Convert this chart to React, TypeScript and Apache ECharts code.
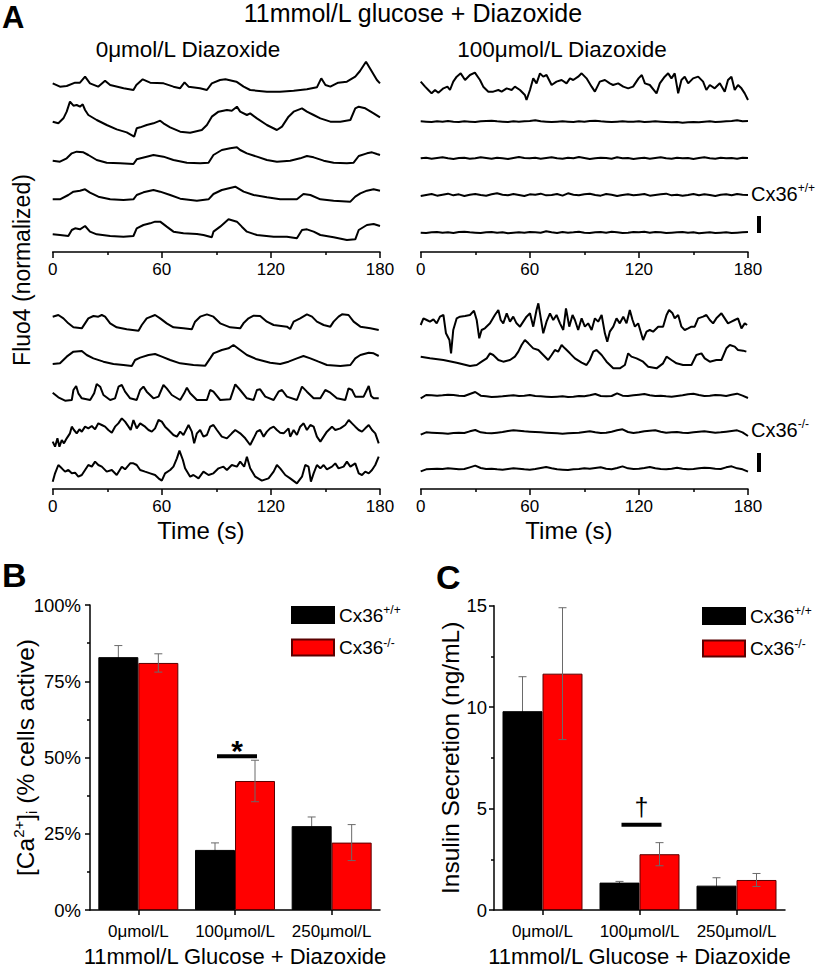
import React, { useEffect, useRef } from "react";
import * as echarts from "echarts";

type Pt = [number, number];

// ---------------- Panel A : Fluo4 traces (time in s, deflection in a.u.) ----------------
const TIME_STEP = 3; // sampling step (s) of the evenly sampled traces

// Cx36+/+ , 0 µmol/L diazoxide
const wt0_1: Pt[] = [[0,10],[4,0],[7.7,2],[12.3,12],[15,12],[17.8,30],[20.5,10],[25,0],[28.8,18],[31.6,5],[39,-5],[44.4,-10],[46,5],[49.5,22],[53.6,12],[61,10],[66.4,0],[70,-5],[72.5,13],[74.7,0],[81,-5],[84.8,-10],[87.5,10],[92,20],[95,22],[101,15],[105,0],[108.6,-10],[117.8,-15],[125,-15],[132.5,-12],[139.8,-8],[145.3,-2],[147.7,25],[150,5],[152.7,0],[157,12],[161.8,15],[166.4,30],[169,47],[172.3,75],[175.6,45],[178.3,20],[180,10]];
const wt0_2: Pt[] = [[0,0],[3.1,-5],[5.9,10],[7.7,30],[9.5,60],[11.4,48],[13.2,50],[15,45],[16.5,52],[17.8,35],[19.6,20],[24.2,5],[29.7,-10],[35.2,-23],[40.7,-32],[44.8,-45],[46.2,-20],[48.1,-17],[51.7,-10],[55.4,-5],[59.1,3],[60.9,-5],[64.6,-17],[70.1,-30],[75.6,-33],[82,-25],[84.8,-10],[87.5,15],[91.2,30],[95.8,35],[98.5,33],[101.3,45],[103.1,30],[106.8,20],[108.6,25],[112.3,10],[117.8,-10],[123.3,-25],[126.1,-15],[129.7,15],[132.5,30],[137.1,40],[139.8,30],[143.5,20],[147.2,10],[152.7,0],[158.2,0],[163.7,5],[166.4,40],[168.3,45],[171.9,40],[176.5,25],[180,13]];
const wt0_3: Pt[] = [[0,3],[4,0],[7.7,10],[10.5,25],[13.2,30],[16.9,28],[19.6,20],[24.2,5],[29.7,-3],[37.1,-5],[44.4,-7],[46.2,7],[51.7,15],[55.4,20],[60.9,15],[66.4,5],[73.8,-3],[81.1,-5],[85.7,-3],[88.4,20],[93,35],[97.6,40],[101.3,43],[103.1,35],[106.8,25],[112.3,15],[117.8,5],[123.3,0],[130.6,3],[136.1,10],[139.8,17],[143.5,13],[149,3],[154.5,-3],[161.8,-5],[165.5,-3],[168.3,17],[172.8,25],[175.6,28],[178.3,23],[180,20]];
const wt0_4: Pt[] = [[0,0],[4,0],[8.6,13],[11.4,23],[15,26],[17.8,30],[20.5,20],[25.1,8],[31.6,0],[38.9,-2],[44.4,0],[46.2,13],[49.9,21],[55.4,28],[59.1,23],[64.6,13],[70.1,2],[79.3,-4],[85.7,0],[88.4,16],[93,28],[100.4,38],[105,23],[110.5,13],[117.8,6],[125.1,0],[134.3,0],[137.9,16],[141.7,13],[147.2,0],[154.5,-4],[163.7,-7],[166.4,8],[169.2,18],[172.8,26],[176.5,30],[180,26]];
const wt0_5: Pt[] = [[0,2],[4,0],[8.6,-3],[10.5,15],[12.3,20],[15,17],[17.8,27],[20.5,10],[24.2,2],[31.6,-3],[38.9,-5],[44.4,-3],[46.2,20],[49.9,30],[53.6,35],[56.3,40],[59.1,40],[62.7,25],[66.4,10],[71.9,5],[79.3,3],[82.9,0],[87.5,-7],[88.4,10],[92.1,25],[96.7,47],[101.3,40],[104,25],[106.8,10],[112.3,0],[121.5,-5],[128.8,-5],[134.3,-10],[137.1,15],[139.8,17],[143.5,10],[147.2,0],[154.5,-7],[161.8,-15],[166.4,-13],[168.3,15],[172.8,30],[176.5,33],[180,27]];

// Cx36+/+ , 100 µmol/L diazoxide
const wt100_1: Pt[] = [[0,15],[2.4,0],[4.2,-10],[6,-20],[7.9,-10],[9.7,-18],[12.5,-5],[14.7,0],[16.1,-10],[17.9,15],[19.8,30],[22,40],[24.4,20],[27.1,35],[29.8,42],[32.6,20],[34.4,0],[37.2,-15],[39.9,-15],[42.7,-10],[44.5,-15],[47.3,-5],[50,-10],[51.8,0],[54.6,-10],[57.3,-25],[58.2,-40],[60.1,-10],[61.9,25],[63.7,10],[65.6,40],[67.4,30],[69.2,35],[72,5],[74.7,15],[77.5,20],[80.2,10],[82.1,25],[83.9,20],[86.6,30],[88.5,40],[91.2,25],[94,0],[95.8,-15],[98.5,15],[101.3,20],[104,10],[105.8,5],[108.6,10],[111.4,0],[114.1,-5],[116.8,0],[119.8,25],[121.6,35],[123.3,10],[126,5],[129.7,-20],[131.5,10],[134.2,30],[136.1,40],[137.9,25],[139.7,40],[141.6,-20],[143.4,20],[145.2,30],[147.1,10],[149.8,25],[152.6,30],[155.3,15],[157.1,-10],[159,5],[161.7,-5],[164.5,10],[167.2,-15],[169,20],[170.9,30],[172.7,-10],[174.5,5],[176.4,-5],[178.2,-20],[180,-40]];
const wt100_2 = [1,0,-1,1,0,2,0,-1,1,0,-1,1,2,3,1,0,-1,1,0,1,2,4,1,0,-1,0,1,0,-1,1,0,2,3,1,0,-1,0,1,0,0,1,-1,0,1,0,-1,-2,-1,-3,-2,-1,-2,0,1,-1,0,1,2,4,1,2];
const wt100_3 = [0,2,-1,1,3,0,-2,1,2,-1,0,3,1,-1,2,0,-2,1,4,1,0,2,-1,1,3,0,-1,2,0,4,1,-2,0,2,1,-1,3,0,1,-2,0,2,-1,1,3,0,-1,2,0,1,-2,1,3,0,-1,2,0,1,-1,2,1];
const wt100_4 = [-3,0,3,-2,1,4,-1,2,-3,1,3,0,-2,2,5,1,-1,3,0,-3,2,1,4,-1,0,3,-2,5,1,-1,2,4,0,-2,3,1,-3,0,2,-1,1,3,-2,0,2,4,-1,1,-2,0,3,-1,2,0,-3,1,2,-1,3,1,0];
const wt100_5 = [0,-1,1,2,0,1,-1,2,3,1,0,-1,1,2,0,1,-2,0,1,0,2,1,0,4,1,-1,2,0,1,3,0,-1,1,2,0,3,1,-1,0,2,1,3,0,2,1,-1,0,1,2,0,1,-2,0,1,-1,0,1,-1,0,1,2];

// Cx36-/- , 0 µmol/L diazoxide
const ko0_1: Pt[] = [[0,35],[3.1,40],[5.9,30],[8.6,15],[11.4,3],[16,0],[17.8,15],[19.6,30],[22.4,37],[25.1,35],[27,40],[28.8,35],[31.6,15],[35.2,3],[40.7,-3],[47.2,-7],[49,10],[51.7,30],[56.3,40],[59.1,30],[62.7,15],[66.4,3],[71.9,0],[76.5,-3],[78.3,20],[81.1,35],[84.8,42],[88.4,35],[92.1,15],[97.6,3],[103.1,0],[104.9,15],[107.7,30],[110.5,38],[114.1,37],[117.8,20],[121.5,10],[128.8,5],[130.6,-2],[132.5,20],[136.1,30],[139.8,42],[142.6,35],[145.3,20],[149,10],[152.7,5],[154.5,20],[157.2,35],[159.1,42],[162.7,40],[165.5,20],[169.2,5],[174.7,0],[179.3,-5]];
const ko0_2: Pt[] = [[0,3],[4,5],[7.7,25],[11.4,40],[16,42],[18.7,30],[22.4,20],[27.9,10],[33.4,3],[38.9,0],[43.5,-3],[45.3,15],[48.1,22],[52.7,30],[56.3,33],[60,25],[64.6,15],[70.1,5],[77.4,0],[83.9,-2],[86.6,20],[88.4,35],[93,45],[96.7,50],[99.4,60],[103.1,45],[106.8,30],[112.3,17],[119.6,7],[125.1,3],[129.7,10],[134.3,20],[137.9,27],[141.7,20],[146.2,10],[150.8,0],[158.2,-3],[163.7,0],[166.4,20],[169.2,30],[173.8,37],[176.5,35],[179.3,27]];
const ko0_3: Pt[] = [[0,22],[3.1,8],[6.8,-2],[10.5,0],[11.4,30],[12.9,42],[14.1,20],[16,5],[20.6,0],[22.8,20],[24.2,48],[26.1,40],[27.9,15],[31.6,0],[34.3,5],[36.2,40],[38,45],[39.8,25],[42.6,5],[46.2,0],[48.1,30],[49.9,40],[51.7,25],[55.4,5],[58.2,10],[60.9,45],[62.7,35],[65.5,15],[70.1,0],[72.3,20],[73.8,37],[75.6,20],[79.3,0],[84.8,0],[86.6,30],[88.4,25],[92.1,0],[97.6,2],[100.4,47],[103.1,30],[106.8,5],[110.5,0],[112.3,30],[114.1,32],[116.9,10],[121.5,0],[124.2,25],[126.1,30],[128.8,10],[134.3,0],[137.1,40],[139.8,25],[143.5,5],[147.2,5],[149.9,30],[152.7,22],[156.3,5],[160.9,0],[162.7,35],[164.6,30],[166.4,10],[171,10],[173.8,42],[175.1,12],[176.5,5],[179.3,5]];
const ko0_4: Pt[] = [[0,-25],[1.3,-40],[2.6,-15],[3.7,-40],[5,-20],[6.2,-30],[7.7,-15],[9.5,0],[10.5,20],[11.7,10],[13.2,0],[14.7,12],[16,5],[17.8,20],[19.6,15],[21.5,22],[23.3,12],[25.1,30],[27,25],[28.8,20],[30.6,10],[32.5,2],[34.3,20],[36.1,30],[38,45],[39.8,35],[41.7,20],[42.9,10],[44.4,40],[46.2,15],[48.1,30],[50.8,20],[52.7,10],[54.5,5],[56.3,15],[58.2,40],[60,35],[61.8,20],[63.7,10],[66.4,-5],[68.3,-10],[70.1,5],[71.9,-5],[74.7,25],[76.5,5],[77.8,-30],[79.3,0],[81.1,10],[82.9,-10],[84.8,-5],[86.6,20],[88.4,25],[90.3,10],[93,-10],[95.8,-15],[98.5,0],[100.4,10],[103.1,0],[105.9,-15],[108.6,-35],[110.5,-15],[112.3,5],[114.1,10],[116,-10],[117.8,5],[119.6,15],[121.5,20],[123.3,10],[125.1,2],[127,0],[129.7,15],[130.6,-10],[132.5,10],[134.3,-5],[136.1,20],[138,30],[139.8,10],[141.7,25],[143.5,20],[145.3,-10],[147.2,-25],[149,-10],[150.8,5],[153.6,20],[155.4,10],[158.2,15],[160.9,25],[162.8,40],[164.6,30],[166.4,20],[168.3,10],[170.1,5],[171.9,15],[173.8,25],[175.6,10],[177.4,0],[179.3,-30]];
const ko0_5: Pt[] = [[0,-30],[1.3,-5],[3.1,20],[5,10],[6.8,0],[8.6,5],[10.5,-5],[12.3,-3],[14.1,-15],[16,-10],[17.8,5],[19.6,20],[21.5,15],[23.3,30],[25.1,20],[27,15],[29.7,0],[32.5,5],[35.2,-10],[38,15],[39.8,7],[42.6,25],[44.4,25],[46.2,20],[48.1,5],[50.8,0],[53.6,-5],[56.3,-10],[58.2,-20],[60,-27],[61.8,-5],[64.6,5],[66.4,15],[68.3,40],[69.7,63],[71.6,35],[72.8,10],[75.6,-15],[77.4,-10],[80.2,-20],[82.9,0],[85.7,-10],[88.4,-5],[91.2,10],[93.9,15],[95.8,5],[98.5,20],[101.3,15],[103.1,30],[105.3,15],[106.8,45],[108.6,10],[111.4,-15],[115,-27],[118.7,-20],[121.5,0],[123.3,20],[125.1,10],[127.9,-10],[130.6,-20],[134.3,-35],[137.1,-15],[138.9,20],[140.7,15],[142,-30],[143.5,-5],[145.3,20],[147.2,10],[149,20],[150.8,7],[153.6,15],[155.4,25],[157.2,10],[160,15],[161.8,30],[163.7,15],[166.4,25],[168.3,-5],[170.1,-10],[171.9,0],[173.8,-5],[175.6,5],[177.4,20],[179.3,45]];

// Cx36-/- , 100 µmol/L diazoxide
const ko100_1: Pt[] = [[0,-5],[1.5,15],[3.3,10],[5.1,5],[7,12],[8.8,0],[10.6,20],[12.5,25],[13.9,-30],[15.8,-50],[16.7,-90],[17.9,-20],[19.8,15],[21.6,20],[24.4,22],[27.1,25],[29.3,38],[30.8,10],[32.2,-45],[33.5,-20],[35.3,-15],[38.1,0],[40.8,25],[42.7,40],[44,10],[45.4,0],[47.3,30],[49.1,5],[50.9,20],[52.7,0],[54.6,-10],[56.4,5],[58.2,20],[60.1,30],[61.9,-10],[63.7,40],[64.7,60],[65.6,30],[67.4,-30],[69.2,5],[71.1,30],[72.9,10],[74.7,25],[76.6,0],[78.4,-20],[79.9,45],[81.7,-10],[83.5,25],[84.8,10],[86.6,-20],[88.5,15],[90.3,-10],[92.1,0],[94,-20],[95.8,15],[97.6,5],[99.5,25],[101.3,-30],[102.6,-55],[104,-25],[105.9,-10],[107.7,15],[109.5,0],[111.4,20],[113.2,0],[115,40],[116.5,10],[117.8,-10],[119.6,0],[122.3,-50],[124.2,-25],[126,-20],[127.8,-25],[130.6,-10],[133.3,-10],[135.2,25],[136.6,40],[138.5,30],[139.7,15],[141.6,25],[143.4,-10],[145.2,-20],[147.1,-15],[148.9,-10],[150.7,-10],[152.6,15],[155.3,20],[157.1,25],[159,10],[160.8,0],[162.6,15],[165.4,30],[167.2,15],[169,0],[170.9,5],[172.7,10],[174.5,15],[176.4,-15],[178.2,0],[179.5,-5]];
const ko100_2: Pt[] = [[0,15],[5.1,10],[12.5,5],[19.8,-3],[27.1,-13],[30.8,-10],[33.5,0],[36.3,10],[38.1,25],[39.9,20],[42.7,5],[45.4,0],[49.1,5],[51.8,15],[53.7,30],[55.5,50],[57.3,65],[59.2,55],[61.9,40],[64.7,35],[67.4,20],[70.1,5],[72,20],[73.8,35],[75.6,30],[77.5,50],[79.3,40],[82.1,25],[84.8,10],[88.5,-3],[91.2,-10],[93,5],[94.9,30],[96.7,35],[99.5,20],[102.2,0],[105.9,-20],[109.5,-20],[112.3,-10],[114.1,25],[115.9,15],[118.7,10],[122.3,0],[125.1,-15],[129.7,-20],[133.3,-5],[135.2,15],[137.9,5],[140.7,-5],[144.3,-10],[148.9,-10],[151.6,20],[154.4,25],[156.2,10],[159,0],[162.6,5],[165.4,5],[168.1,40],[170,50],[172.7,45],[174.5,35],[177.3,33],[179.1,30]];
const ko100_3 = [-5,5,4,3,4,6,5,3,2,8,14,3,1,-1,0,1,3,4,2,3,5,2,1,0,-1,0,1,-1,0,2,1,4,8,2,1,2,10,3,2,4,6,8,4,2,3,1,0,2,4,7,9,5,2,3,5,4,2,6,9,3,-4];
const ko100_4 = [-4,3,2,1,0,-1,1,2,1,6,10,3,1,0,2,4,7,9,8,6,5,4,3,2,1,0,-1,0,1,2,4,6,3,1,2,5,9,12,4,1,3,6,8,9,5,2,3,4,2,1,3,5,6,4,2,3,5,7,9,3,-8];
const ko100_5 = [-4,2,3,4,3,5,4,2,3,8,13,6,3,4,2,1,3,5,4,2,1,3,6,9,5,2,1,0,2,3,5,4,6,8,4,2,6,11,5,3,4,6,9,5,3,2,4,7,4,2,3,5,7,6,4,3,8,11,5,2,-5];

// ---------------- Panels B and C : bar charts ----------------
const CATEGORIES = ["0μmol/L", "100μmol/L", "250μmol/L"];
const WT = "Cx36+/+";
const KO = "Cx36-/-";
const CA_WT = [82.9, 19.7, 27.5];
const CA_WT_SEM = [3.8, 2.3, 3.0];
const CA_KO = [81.0, 42.3, 22.1];
const CA_KO_SEM = [3.0, 6.8, 5.9];
const INS_WT = [9.8, 1.35, 1.2];
const INS_WT_SEM = [1.7, 0.06, 0.39];
const INS_KO = [11.65, 2.75, 1.48];
const INS_KO_SEM = [3.25, 0.57, 0.32];
const CA_SIG: [number, number, string] = [1, 50.4, "*"];
const INS_SIG: [number, number, string] = [1, 4.2, "†"];

// ---------------- styling / layout ----------------
const SANS = '"Liberation Sans", Arial, Helvetica, sans-serif';

const sampled = (vals: number[]): Pt[] => vals.map((v, i) => [i * TIME_STEP, v]);

const TRACE_PANELS = [
  { grid: 0, offsets: [496, 391, 271, 158, 51], traces: [wt0_1, wt0_2, wt0_3, wt0_4, wt0_5] },
  { grid: 1, offsets: [496, 391, 281, 171, 58], traces: [wt100_1, sampled(wt100_2), sampled(wt100_3), sampled(wt100_4), sampled(wt100_5)] },
  { grid: 2, offsets: [482, 372, 267, 167, 52], traces: [ko0_1, ko0_2, ko0_3, ko0_4, ko0_5] },
  { grid: 3, offsets: [497, 382, 277, 167, 57], traces: [ko100_1, ko100_2, sampled(ko100_3), sampled(ko100_4), sampled(ko100_5)] },
];

function buildOption() {
  const grids = [
    { left: 52.7, top: 55, width: 327.3, height: 197 },
    { left: 420.7, top: 55, width: 327.3, height: 197 },
    { left: 52.7, top: 300, width: 327.3, height: 189 },
    { left: 420.7, top: 300, width: 327.3, height: 189 },
    { left: 90, top: 605, width: 290, height: 308 },
    { left: 494, top: 605.7, width: 291, height: 308 },
  ];
  const yMax = [591, 591, 567, 567];

  const traceX = (gridIndex: number, withName: boolean) => ({
    type: "value", gridIndex, min: 0, max: 180, interval: 60,
    axisLine: { show: true, onZero: false, lineStyle: { color: "#000", width: 1.5 } },
    axisTick: { show: true, length: 6, lineStyle: { color: "#000", width: 1.5 } },
    minorTick: { show: true, splitNumber: 2, length: 3, lineStyle: { color: "#000", width: 1.5 } },
    axisLabel: { color: "#000", fontSize: 17, margin: 9, fontFamily: SANS },
    splitLine: { show: false }, minorSplitLine: { show: false },
    name: withName ? "Time (s)" : "", nameLocation: "middle", nameGap: 29, nameMoveOverlap: false,
    nameTextStyle: { fontSize: 24, color: "#000", fontFamily: SANS, padding: [0, 31, 0, 0] },
  });
  const traceY = (gridIndex: number) => ({
    type: "value", gridIndex, min: 0, max: yMax[gridIndex], show: false,
    splitLine: { show: false },
  });

  const catX = (gridIndex: number) => ({
    type: "category", gridIndex, data: CATEGORIES,
    axisLine: { show: true, lineStyle: { color: "#000", width: 1.5 } },
    axisTick: { show: true, alignWithLabel: true, length: 5, lineStyle: { color: "#000", width: 1.5 } },
    axisLabel: { color: "#000", fontSize: 17, margin: 13, fontFamily: SANS, interval: 0 },
    name: "11mmol/L Glucose + Diazoxide", nameLocation: "middle", nameGap: 35, nameMoveOverlap: false,
    nameTextStyle: { fontSize: 22, color: "#000", fontFamily: SANS },
  });

  const baseY = {
    type: "value", min: 0,
    axisLine: { show: true, lineStyle: { color: "#000", width: 1.5 } },
    axisTick: { show: true, length: 5, lineStyle: { color: "#000", width: 1.5 } },
    minorTick: { show: true, splitNumber: 2, length: 3, lineStyle: { color: "#000", width: 1.5 } },
    splitLine: { show: false }, minorSplitLine: { show: false },
    nameLocation: "middle", nameRotate: 90, nameMoveOverlap: false,
  };
  const yB = {
    ...baseY, gridIndex: 4, max: 100, interval: 25,
    axisLabel: { color: "#000", fontSize: 18.5, margin: 9, fontFamily: SANS, formatter: "{value}%" },
    name: "{n|[Ca}{sup|2+}{n|]}{sub|i}{n| (% cells active)}", nameGap: 51,
    nameTextStyle: {
      color: "#000",
      rich: {
        n: { fontSize: 24.5, fontFamily: SANS, color: "#000", lineHeight: 28, verticalAlign: "middle" },
        sup: { fontSize: 15, fontFamily: SANS, color: "#000", lineHeight: 28, verticalAlign: "top", padding: [0, 0, 10, 0] },
        sub: { fontSize: 15, fontFamily: SANS, color: "#000", lineHeight: 28, verticalAlign: "bottom", padding: [10, 0, 0, 0] },
      },
    },
  };
  const yC = {
    ...baseY, gridIndex: 5, max: 15, interval: 5,
    axisLabel: { color: "#000", fontSize: 18.5, margin: 7, fontFamily: SANS },
    name: "Insulin Secretion (ng/mL)", nameGap: 31,
    nameTextStyle: { color: "#000", fontSize: 24.5, fontFamily: SANS },
  };

  const series: any[] = [];
  TRACE_PANELS.forEach((p) => {
    p.traces.forEach((tr, k) => {
      series.push({
        type: "line", xAxisIndex: p.grid, yAxisIndex: p.grid, silent: true,
        symbol: "none", clip: false,
        lineStyle: { color: "#000", width: 2 },
        data: tr.map(([t, v]) => [t, p.offsets[k] + v]),
      });
    });
  });

  const errRender = (dx: number) => (params: any, api: any) => {
    const cat = api.value(0), mean = api.value(1), err = api.value(2);
    const top = api.coord([cat, mean + err]);
    const bot = api.coord([cat, mean - err]);
    const x = top[0] + dx;
    const style = { stroke: "#6a6a6a", lineWidth: 1, fill: "none" };
    return {
      type: "group",
      children: [
        { type: "line", shape: { x1: x, y1: top[1], x2: x, y2: bot[1] }, style },
        { type: "line", shape: { x1: x - 4, y1: top[1], x2: x + 4, y2: top[1] }, style },
        { type: "line", shape: { x1: x - 4, y1: bot[1], x2: x + 4, y2: bot[1] }, style },
      ],
    };
  };
  const sigRender = (params: any, api: any) => {
    const p = api.coord([api.value(0), api.value(1)]);
    const isStar = params.seriesId === "sigB";
    return {
      type: "group",
      children: [
        { type: "rect", shape: { x: p[0] - 18, y: p[1] - 2, width: 40, height: 4 }, style: { fill: "#000" } },
        {
          type: "text",
          style: {
            text: isStar ? CA_SIG[2] : INS_SIG[2], x: p[0] + 2, y: isStar ? p[1] - 6 : p[1] - 18,
            align: "center", verticalAlign: "middle",
            fontSize: isStar ? 30 : 25, fontWeight: isStar ? "bold" : "normal", fontFamily: SANS, fill: "#000",
          },
        },
      ],
    };
  };

  const addBars = (ax: number, wt: number[], wtSem: number[], ko: number[], koSem: number[]) => {
    series.push({
      type: "bar", name: WT, xAxisIndex: ax, yAxisIndex: ax, data: wt, barWidth: 40, barGap: "0%", z: 2,
      itemStyle: { color: "#000", borderColor: "#000", borderWidth: 1 },
    });
    series.push({
      type: "bar", name: KO, xAxisIndex: ax, yAxisIndex: ax, data: ko, barWidth: 40, barGap: "0%", z: 2,
      itemStyle: { color: "#ff0000", borderColor: "#5a0000", borderWidth: 1 },
    });
    series.push({
      type: "custom", xAxisIndex: ax, yAxisIndex: ax, z: 1, silent: true,
      renderItem: errRender(-20), encode: { x: 0, y: 1 },
      data: wt.map((v, i) => [i, v, wtSem[i]]),
    });
    series.push({
      type: "custom", xAxisIndex: ax, yAxisIndex: ax, z: 3, silent: true,
      renderItem: errRender(20), encode: { x: 0, y: 1 },
      data: ko.map((v, i) => [i, v, koSem[i]]),
    });
  };
  addBars(4, CA_WT, CA_WT_SEM, CA_KO, CA_KO_SEM);
  addBars(5, INS_WT, INS_WT_SEM, INS_KO, INS_KO_SEM);
  series.push({
    type: "custom", id: "sigB", xAxisIndex: 4, yAxisIndex: 4, z: 4, silent: true,
    renderItem: sigRender, encode: { x: 0, y: 1 }, data: [[CA_SIG[0], CA_SIG[1]]],
  });
  series.push({
    type: "custom", id: "sigC", xAxisIndex: 5, yAxisIndex: 5, z: 4, silent: true,
    renderItem: sigRender, encode: { x: 0, y: 1 }, data: [[INS_SIG[0], INS_SIG[1]]],
  });

  const legendBase = {
    data: [WT, KO], orient: "vertical", icon: "rect", itemWidth: 42, itemHeight: 16, itemGap: 12,
    padding: 0, selectedMode: false,
    formatter: (name: string) => (name === WT ? "{a|Cx36}{s|+/+}" : "{a|Cx36}{s|-/-}"),
    textStyle: {
      rich: {
        a: { fontSize: 19, fontFamily: SANS, color: "#000", lineHeight: 22, verticalAlign: "middle" },
        s: { fontSize: 12, fontFamily: SANS, color: "#000", lineHeight: 22, verticalAlign: "top", padding: [0, 0, 8, 0] },
      },
    },
  };

  const richCx = {
    a: { fontSize: 20, fontFamily: SANS, fill: "#000", lineHeight: 24, verticalAlign: "middle" },
    s: { fontSize: 12, fontFamily: SANS, fill: "#000", lineHeight: 24, verticalAlign: "top", padding: [0, 0, 9, 0] },
  };

  const graphic: any[] = [
    { type: "text", x: 2, y: 17, style: { text: "A", fontSize: 31, fontWeight: "bold", fontFamily: SANS, fill: "#000", verticalAlign: "middle" } },
    { type: "text", x: 413, y: 13, style: { text: "11mmol/L glucose + Diazoxide", fontSize: 25, fontFamily: SANS, fill: "#000", align: "center", verticalAlign: "middle" } },
    { type: "text", x: 188, y: 49, style: { text: "0μmol/L Diazoxide", fontSize: 22.5, fontFamily: SANS, fill: "#000", align: "center", verticalAlign: "middle" } },
    { type: "text", x: 562, y: 49, style: { text: "100μmol/L Diazoxide", fontSize: 22.5, fontFamily: SANS, fill: "#000", align: "center", verticalAlign: "middle" } },
    { type: "text", x: 22, y: 270, rotation: Math.PI / 2, style: { text: "Fluo4 (normalized)", fontSize: 23, fontFamily: SANS, fill: "#000", align: "center", verticalAlign: "middle" } },
    { type: "text", x: 751, y: 194, style: { text: "{a|Cx36}{s|+/+}", rich: richCx, verticalAlign: "middle" } },
    { type: "text", x: 751, y: 430, style: { text: "{a|Cx36}{s|-/-}", rich: richCx, verticalAlign: "middle" } },
    { type: "rect", shape: { x: 757, y: 216, width: 4, height: 17 }, style: { fill: "#000" } },
    { type: "rect", shape: { x: 757, y: 453, width: 4, height: 19 }, style: { fill: "#000" } },
    { type: "text", x: 2, y: 575, style: { text: "B", fontSize: 34, fontWeight: "bold", fontFamily: SANS, fill: "#000", verticalAlign: "middle" } },
    { type: "text", x: 436, y: 577, style: { text: "C", fontSize: 34, fontWeight: "bold", fontFamily: SANS, fill: "#000", verticalAlign: "middle" } },
  ];

  return {
    animation: false,
    backgroundColor: "#fff",
    textStyle: { fontFamily: SANS },
    grid: grids,
    xAxis: [traceX(0, false), traceX(1, false), traceX(2, true), traceX(3, true), catX(4), catX(5)],
    yAxis: [traceY(0), traceY(1), traceY(2), traceY(3), yB, yC],
    legend: [
      { ...legendBase, left: 291, top: 604 },
      { ...legendBase, left: 702, top: 605 },
    ],
    graphic,
    series,
  };
}

export default function App() {
  const ref = useRef<HTMLDivElement>(null);
  useEffect(() => {
    if (!ref.current) return;
    const chart = echarts.init(ref.current, undefined, { renderer: "svg" });
    chart.setOption(buildOption() as any);
    return () => chart.dispose();
  }, []);
  return (
    <div
      ref={ref}
      style={{ position: "absolute", left: 0, top: 0, width: 825, height: 968, background: "#fff" }}
    />
  );
}
